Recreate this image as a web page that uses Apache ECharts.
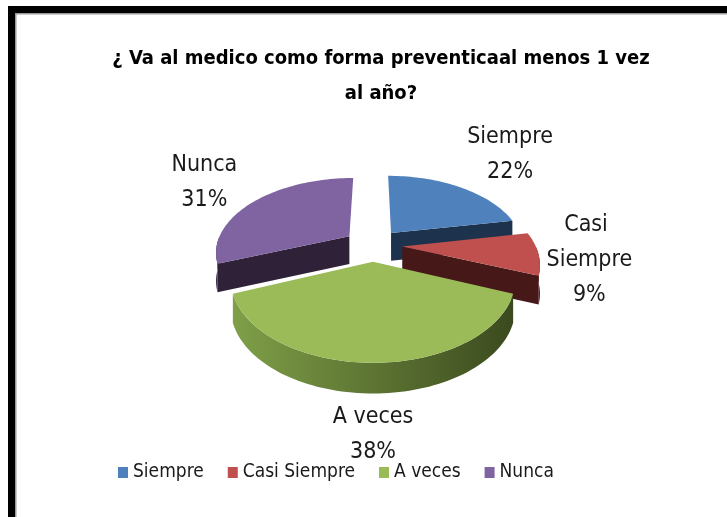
<!DOCTYPE html>
<html>
<head>
<meta charset="utf-8">
<script src="https://cdn.jsdelivr.net/npm/echarts@6/dist/echarts.min.js"></script>
<style>
  html, body { margin: 0; padding: 0; background: #fff; }
  #the-echart { width: 727px; height: 517px; }
</style>
</head>
<body>
<div id="the-echart"></div>
<script>
// chart data
const categories = ['Siempre', 'Casi Siempre', 'A veces', 'Nunca']
const values = [22, 9, 38, 31]
const titleLines = ['¿ Va al medico como forma preventicaal menos 1 vez', 'al año?']

// look of each slice: top face, side light, side dark
const topColors = ['#4f81bd', '#c0504d', '#9bbb59', '#8064a2']
const sideLight = ['#25405f', '#58201f', '#7f9f48', '#3a2a47']
const sideDark = ['#1d334d', '#461818', '#3b4a1e', '#2e2138']

const FONT = "'Liberation Sans Narrow', 'DejaVu Sans Condensed', sans-serif"

// 3d pie geometry
const CX = 373, CY = 245, RX = 133, RY = 73, K = 0.2, H = 28, EXPLODE = 0.22

function project(u, v, h) {
  let s = 1 / (1 - K * v)
  return [CX + RX * u * s, CY + RY * v * s + h * (1 + (s - 1) * 0.3)]
}

function renderSlice(i) {
  return function(params, api) {
    let total = values.reduce((a, b) => a + b, 0)
    let before = values.slice(0, i).reduce((a, b) => a + b, 0)
    let start = before / total * Math.PI * 2
    let end = start + api.value(0) / total * Math.PI * 2
    let mid = (start + end) / 2
    let ou = EXPLODE * Math.sin(mid)
    let ov = -EXPLODE * Math.cos(mid)
    let pt = (t, r, h) => project(ou + r * Math.sin(t), ov - r * Math.cos(t), h)
    let arc = (a, b, h) => {
      let res = []
      let n = Math.max(2, Math.ceil((b - a) / 0.03))
      for (let k = 0; k <= n; k++) {
        res.push(pt(a + (b - a) * k / n, 1, h))
      }
      return res
    }
    let wallFill = {
      type: 'linear', x: 0, y: 0, x2: 1, y2: 0,
      colorStops: [{offset: 0, color: sideLight[i]}, {offset: 1, color: sideDark[i]}]
    }
    let children = []
    // outer curved wall, front half only
    let a = Math.max(start, Math.PI / 2)
    let b = Math.min(end, Math.PI * 1.5)
    if (b > a) {
      children.push({
        type: 'polygon',
        shape: {points: arc(a, b, 0).concat(arc(a, b, H).reverse())},
        style: {fill: wallFill}
      })
    }
    // radial cut faces
    let face = t => [pt(t, 0, 0), pt(t, 1, 0), pt(t, 1, H), pt(t, 0, H)]
    if (Math.sin(start) < -1e-6) {
      children.push({type: 'polygon', shape: {points: face(start)}, style: {fill: sideDark[i]}})
    }
    if (Math.sin(end) > 1e-6) {
      children.push({type: 'polygon', shape: {points: face(end)}, style: {fill: sideDark[i]}})
    }
    // top face
    children.push({
      type: 'polygon',
      shape: {points: [pt(0, 0, 0)].concat(arc(start, end, 0))},
      style: {fill: topColors[i]}
    })
    // outside label
    let lines = categories[i] === 'Casi Siempre' ? 3 : 2
    let anchor = pt(mid, 1, H * Math.max(0, -Math.cos(mid)))
    let dx = anchor[0] - CX, dy = anchor[1] - CY
    let len = Math.sqrt(dx * dx + dy * dy)
    let ux = dx / len, uy = dy / len
    let hw = 45, hh = lines * 35 / 2
    let d = Math.min(Math.abs(ux) > 1e-6 ? hw / Math.abs(ux) : 1e9, Math.abs(uy) > 1e-6 ? hh / Math.abs(uy) : 1e9) + 6
    let pct = Math.round(api.value(0) / total * 100) + '%'
    children.push({
      type: 'text',
      x: anchor[0] + ux * d,
      y: anchor[1] + uy * d,
      style: {
        text: categories[i] + '\n' + pct,
        width: 100,
        overflow: 'break',
        fill: '#1a1a1a',
        fontSize: 23,
        fontFamily: FONT,
        lineHeight: 35,
        align: 'center',
        verticalAlign: 'middle'
      }
    })
    return {type: 'group', children: children}
  }
}

// back slices are drawn first
function depth(i) {
  let total = values.reduce((a, b) => a + b, 0)
  let before = values.slice(0, i).reduce((a, b) => a + b, 0)
  let mid = (before + values[i] / 2) / total * Math.PI * 2
  return -Math.cos(mid)
}
let order = categories.map((c, i) => i).sort((p, q) => depth(p) - depth(q))

let chart = echarts.init(document.getElementById('the-echart'))
chart.setOption({
  animation: false,
  backgroundColor: '#fff',
  legend: {
    data: categories,
    left: 113,
    top: 458,
    icon: 'rect',
    itemWidth: 10,
    itemHeight: 11,
    itemGap: 24,
    textStyle: {fontFamily: FONT, fontSize: 19, color: '#1a1a1a'}
  },
  graphic: [
    {type: 'rect', shape: {x: 8, y: 6, width: 7, height: 520}, style: {fill: '#000'}},
    {type: 'rect', shape: {x: 8, y: 6, width: 730, height: 7}, style: {fill: '#000'}},
    {type: 'rect', shape: {x: 15, y: 13, width: 1.5, height: 510}, style: {fill: '#9a9a9a'}},
    {type: 'rect', shape: {x: 15, y: 13, width: 720, height: 1.5}, style: {fill: '#9a9a9a'}},
    {
      type: 'text',
      x: 381,
      y: 41,
      style: {
        text: titleLines.join('\n'),
        align: 'center',
        verticalAlign: 'top',
        fontFamily: FONT,
        fontSize: 20,
        fontWeight: 'bold',
        fill: '#000',
        lineHeight: 35
      }
    }
  ],
  series: categories.map((name, i) => ({
    name: name,
    type: 'custom',
    coordinateSystem: 'none',
    z: 2 + order.indexOf(i),
    itemStyle: {color: topColors[i]},
    data: [values[i]],
    renderItem: renderSlice(i)
  }))
})
</script>
</body>
</html>
